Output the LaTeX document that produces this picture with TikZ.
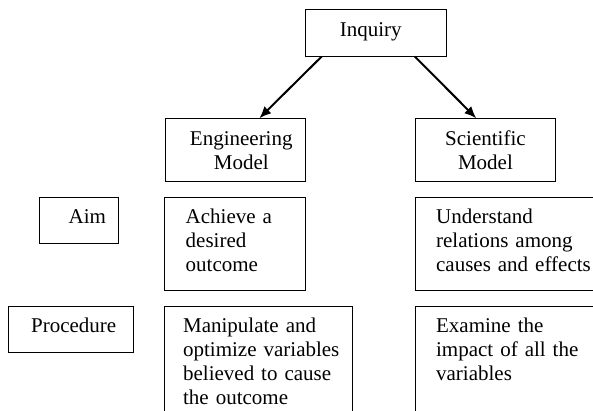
\documentclass[tikz,border=0pt]{standalone}
\usepackage{fontspec}
\setmainfont{Liberation Serif}
\newfontfamily\boxfont{Liberation Serif}
\usetikzlibrary{arrows.meta}

\tikzset{
    box/.style={draw, line width=0.8pt, anchor=north west, inner sep=0pt, align=left, text height=26.5pt, font=\boxfont\fontsize{21}{24}\selectfont},
    pad/.style={execute at begin node={\advance\leftskip by #1}},
    link/.style={line width=2pt, -{Latex[length=12pt, width=10pt]}}
}

\begin{document}
\begin{tikzpicture}[x=1pt, y=-1pt]
        \useasboundingbox (0, 0) rectangle (593, 411);
        \clip (0, 0) rectangle (593, 411);

        \node[box, align=center, text width=140.7pt, text height=27.5pt, text depth=19.2pt, pad=-10pt] (inquiry) at (305, 9) {Inquiry};
        \node[box, align=center, text width=140.7pt, text depth=35.9pt, pad=12pt] (engmodel) at (164.5, 118.3) {Engineering\\Model};
        \node[box, align=center, text width=140.7pt, text depth=35.9pt] (scimodel) at (414.7, 118.3) {Scientific\\Model};

        % rows
        \node[box, text width=78.4pt, text depth=20.1pt, pad=29pt] (aim) at (39.3, 196.7) {Aim};
        \node[box, text width=141pt, text depth=66.8pt, pad=21pt] (engaim) at (164.3, 196.7) {Achieve a\\desired\\outcome};
        \node[box, text width=200pt, text depth=66.8pt, pad=21pt] (sciaim) at (414.7, 196.7) {Understand\\relations among\\causes and effects};

        \node[box, text width=125pt, text depth=20.1pt, pad=22.4pt] (proc) at (8.3, 305.7) {Procedure};
        \node[box, text width=188pt, text depth=93.5pt, pad=18.4pt] (engproc) at (164.3, 305.7) {Manipulate and\\optimize variables\\believed to cause\\the outcome};
        \node[box, text width=200pt, text depth=93.5pt, pad=21pt] (sciproc) at (414.7, 305.7) {Examine the\\impact of all the\\variables};

        \draw[link] ([xshift=16.7pt]inquiry.south west) -- ([xshift=94.8pt]engmodel.north west);
        \draw[link] ([xshift=-31.7pt]inquiry.south east) -- ([xshift=61.6pt]scimodel.north west);
\end{tikzpicture}
\end{document}
